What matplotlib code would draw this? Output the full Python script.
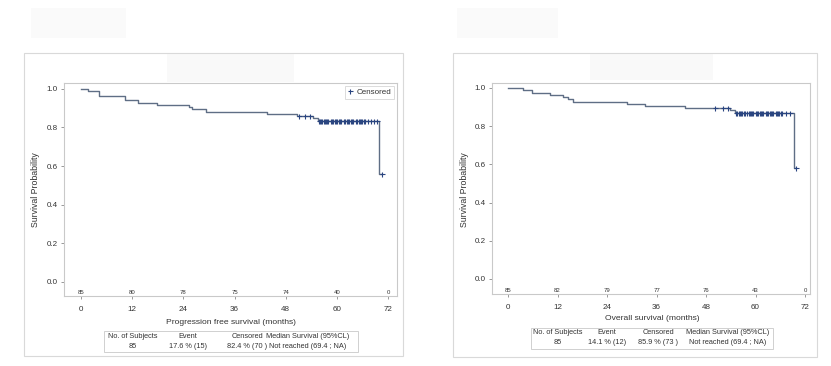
import numpy as np
import matplotlib
matplotlib.use("Agg")
import matplotlib.pyplot as plt
from matplotlib.patches import Rectangle
from matplotlib.lines import Line2D

plt.rcParams['font.family'] = ['Liberation Sans', 'DejaVu Sans']

# ---------------- data ----------------
month_ticks = [0, 12, 24, 36, 48, 60, 72]
y_ticks = [0.0, 0.2, 0.4, 0.6, 0.8, 1.0]

pfs_times = [0, 1.6, 4.1, 10.3, 13.4, 17.9, 25.2, 26.0, 29.3, 43.5, 50.6, 54.5, 55.5, 69.8]
pfs_surv = [1.0, 0.988, 0.965, 0.941, 0.929, 0.918, 0.906, 0.894, 0.882, 0.871, 0.859, 0.847, 0.835, 0.557]
pfs_censor = [51.0, 52.6, 53.8, 55.7, 56.0, 56.3, 56.6, 56.9, 57.2, 57.4, 57.7, 58.0, 58.6, 58.9,
              59.2, 59.5, 59.8, 60.1, 60.4, 60.7, 61.0, 61.6, 62.0, 62.3, 62.6, 62.9, 63.2, 63.5,
              63.8, 64.4, 64.8, 65.1, 65.4, 65.7, 66.0, 66.3, 66.6, 67.2, 68.0, 68.6, 69.4, 70.5]
pfs_at_risk = [85, 80, 78, 75, 74, 40, 0]
pfs_table = ["85", "17.6 % (15)", "82.4 % (70 )", "Not reached (69.4 ; NA)"]

os_times = [0, 3.7, 5.7, 10.2, 13.4, 14.6, 15.8, 28.8, 33.2, 42.9, 53.8, 55.0, 69.2]
os_surv = [1.0, 0.988, 0.976, 0.965, 0.953, 0.941, 0.929, 0.918, 0.906, 0.894, 0.882, 0.870, 0.580]
os_censor = [50.2, 52.1, 53.3, 55.3, 55.6, 55.9, 56.2, 56.5, 56.8, 57.1, 57.4, 58.0, 58.3, 58.6,
             58.9, 59.2, 59.5, 60.1, 60.4, 60.7, 61.0, 61.3, 61.6, 61.9, 62.5, 62.8, 63.1, 63.4,
             63.7, 64.0, 64.3, 64.9, 65.2, 65.5, 65.8, 66.1, 66.4, 67.3, 68.4, 69.9]
os_at_risk = [85, 82, 79, 77, 76, 43, 0]
os_table = ["85", "14.1 % (12)", "85.9 % (73 )", "Not reached (69.4 ; NA)"]

table_header = ["No. of Subjects", "Event", "Censored", "Median Survival (95%CL)"]
pfs_xlabel = "Progression free survival (months)"
os_xlabel = "Overall survival (months)"
ylabel = "Survival Probability"

# ---------------- figure ----------------
W, H = 831, 366
fig = plt.figure(figsize=(W / 100, H / 100), dpi=100)
fig.patch.set_facecolor('white')

def fx(x):
    return x / W

def fy(y):
    return 1 - y / H

def frect(x0, y0, x1, y1, **kw):
    fig.patches.append(Rectangle((fx(x0), fy(y1)), fx(x1) - fx(x0), fy(y0) - fy(y1),
                                 transform=fig.transFigure, **kw))

def ftext(x, y, s, **kw):
    fig.text(fx(x), fy(y), s, **kw)

LINE = '#5f6e85'
MARK = '#2a4580'
SPINE = '#c9c9c9'
TXT = '#333333'

# faint redacted boxes
frect(31, 8, 126, 38, facecolor='#fafafa', edgecolor='none')
frect(457, 8, 558, 38, facecolor='#fafafa', edgecolor='none')
frect(167, 54, 294, 82, facecolor='#f9f9f9', edgecolor='none')
frect(590, 54, 713, 80, facecolor='#f9f9f9', edgecolor='none')

# outer frames
frect(24, 53, 403, 356, facecolor='none', edgecolor='#d9d9d9', lw=0.8)
frect(453, 53, 817, 357, facecolor='none', edgecolor='#d9d9d9', lw=0.8)


def panel(ax_px, xlim, ylim, times, surv, censor, at_risk, at_risk_y, legend):
    x0, y0, x1, y1 = ax_px
    ax = fig.add_axes([fx(x0), fy(y1), fx(x1) - fx(x0), fy(y0) - fy(y1)])
    t = np.array(times, dtype=float)
    s = np.array(surv, dtype=float)
    c = np.array(censor, dtype=float)
    tend = max(c.max(), t.max())
    ax.step(np.append(t, tend), np.append(s, s[-1]), where='post', color=LINE, lw=1.0, zorder=2)
    cy = s[np.searchsorted(t, c, side='right') - 1]
    ax.plot(c, cy, linestyle='none', marker='+', color=MARK, ms=3.6, mew=0.8, zorder=3)
    for xm, n in zip(month_ticks, at_risk):
        ax.text(xm, at_risk_y, str(n), ha='center', va='center', fontsize=4.3, color=TXT)
    ax.set_xlim(*xlim)
    ax.set_ylim(*ylim)
    ax.set_xticks(month_ticks)
    ax.set_xticklabels([str(m) for m in month_ticks])
    ax.set_yticks(y_ticks)
    ax.set_yticklabels([f"{v:.1f}" for v in y_ticks])
    ax.tick_params(labelsize=5.8, colors='#888888', labelcolor=TXT, length=2.5, width=0.6, pad=2)
    ax.tick_params(axis='x', pad=5)
    for sp in ax.spines.values():
        sp.set_color(SPINE)
        sp.set_linewidth(0.8)
    if legend:
        h = Line2D([], [], linestyle='none', marker='+', color=MARK, ms=3.6, mew=0.8)
        lg = ax.legend([h], ['Censored'], loc='upper right', fontsize=5.8, frameon=True,
                       fancybox=False, borderpad=0.3, handlelength=0.8, handletextpad=0.4,
                       borderaxespad=0.4)
        lg.get_frame().set_edgecolor('#cccccc')
        lg.get_frame().set_linewidth(0.6)
        for tx in lg.get_texts():
            tx.set_color(TXT)
    return ax


ax1 = panel((64, 83, 397, 296), (-4.0, 74.1), (-0.075, 1.031),
            pfs_times, pfs_surv, pfs_censor, pfs_at_risk, -0.057, True)
ax2 = panel((492, 83, 810, 294), (-3.9, 73.2), (-0.079, 1.026),
            os_times, os_surv, os_censor, os_at_risk, -0.063, False)

# y labels
ftext(35, 190, ylabel, rotation=90, ha='center', va='center', fontsize=6.3, color=TXT)
ftext(465, 190, ylabel, rotation=90, ha='center', va='center', fontsize=6.3, color=TXT)

# x labels
ftext(231, 323, pfs_xlabel, ha='center', va='center', fontsize=6.1, color=TXT)
ftext(652, 319, os_xlabel, ha='center', va='center', fontsize=6.1, color=TXT)


def table(box, cols, rows_y, values):
    x0, y0, x1, y1 = box
    frect(x0, y0, x1, y1, facecolor='none', edgecolor='#d0d0d0', lw=0.7)
    for cx, hd, v in zip(cols, table_header, values):
        ftext(cx, rows_y[0], hd, ha='center', va='center', fontsize=5.3, color=TXT)
        ftext(cx, rows_y[1], v, ha='center', va='center', fontsize=5.3, color=TXT)


table((104, 331, 358, 352), [133, 188, 247, 308], [336.5, 346], pfs_table)
table((531, 328, 773, 349), [558, 607, 658, 728], [333, 342.5], os_table)

fig.savefig('out.png', dpi=100, facecolor='white')
